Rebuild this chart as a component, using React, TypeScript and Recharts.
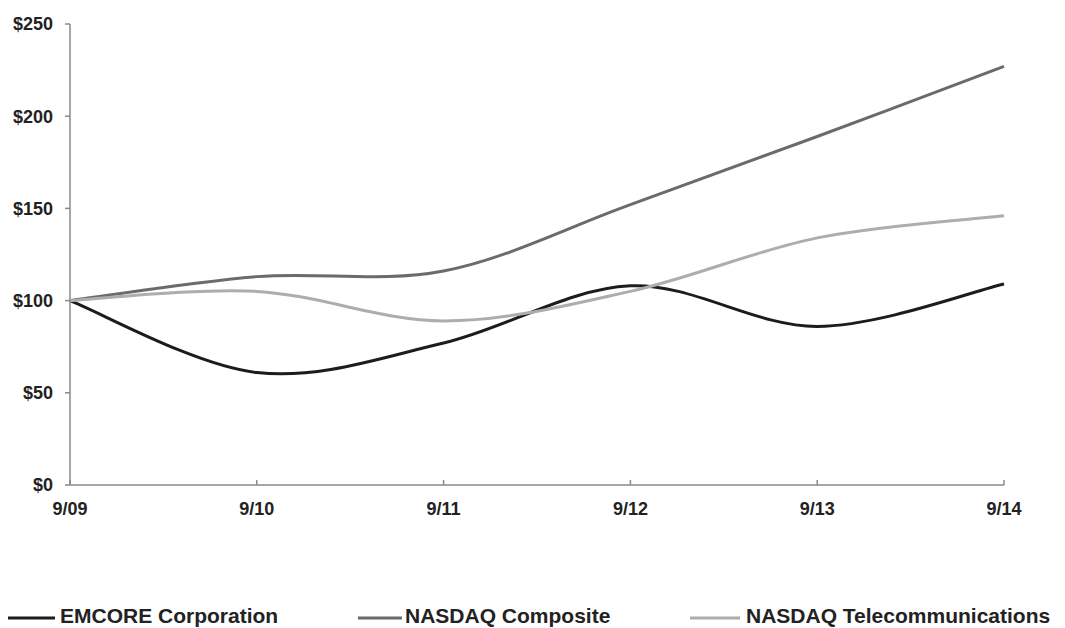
import React from 'react';
import { LineChart, Line, XAxis, YAxis, Legend } from 'recharts';

// performance index, base $100 at 9/09
const periods = ['9/09', '9/10', '9/11', '9/12', '9/13', '9/14'];
const emcoreValues = [100, 61, 77, 108, 86, 109];
const compositeValues = [100, 113, 116, 152, 189, 227];
const telecomValues = [100, 105, 89, 105, 134, 146];
const yTicks = [0, 50, 100, 150, 200, 250];

const seriesList = [
  { key: 'emcore', name: 'EMCORE Corporation', color: '#1c1c1c' },
  { key: 'composite', name: 'NASDAQ Composite', color: '#6b6b6b' },
  { key: 'telecom', name: 'NASDAQ Telecommunications', color: '#adadad' },
];

const data = periods.map((p, i) => ({
  period: p,
  emcore: emcoreValues[i],
  composite: compositeValues[i],
  telecom: telecomValues[i],
}));

const FONT = '"Liberation Sans", Arial, sans-serif';
const AXIS_Y = 485;

// Excel-style smoothed line (Catmull-Rom through the points)
function excelSmooth(context: any) {
  let pts: number[][] = [];
  return {
    areaStart() {},
    areaEnd() {},
    lineStart() {
      pts = [];
    },
    point(x: number, y: number) {
      pts.push([+x, +y]);
    },
    lineEnd() {
      const n = pts.length;
      if (!n) return;
      context.moveTo(pts[0][0], pts[0][1]);
      for (let i = 0; i < n - 1; i++) {
        const p0 = pts[Math.max(i - 1, 0)];
        const p1 = pts[i];
        const p2 = pts[i + 1];
        const p3 = pts[Math.min(i + 2, n - 1)];
        context.bezierCurveTo(
          p1[0] + (p2[0] - p0[0]) / 6,
          p1[1] + (p2[1] - p0[1]) / 6,
          p2[0] - (p3[0] - p1[0]) / 6,
          p2[1] - (p3[1] - p1[1]) / 6,
          p2[0],
          p2[1]
        );
      }
    },
  };
}

function XTick(props: any) {
  const { x, y, payload } = props;
  return (
    <g>
      <line x1={x} y1={y} x2={x} y2={y - 5} stroke="#8a8a8a" strokeWidth={1.5} />
      <text x={x} y={y + 30} textAnchor="middle" fontFamily={FONT} fontWeight="bold" fontSize={18} fill="#222">
        {payload.value}
      </text>
    </g>
  );
}

const legendLines = [
  { x1: 8, x2: 55, tx: 60 },
  { x1: 358, x2: 402, tx: 405 },
  { x1: 690, x2: 740, tx: 746 },
];

function LegendRow() {
  return (
    <svg width={1065} height={32} style={{ display: 'block' }}>
      {seriesList.map((s, i) => (
        <g key={s.key}>
          <line x1={legendLines[i].x1} y1={22} x2={legendLines[i].x2} y2={22} stroke={s.color} strokeWidth={3} />
          <text x={legendLines[i].tx} y={27} fontFamily={FONT} fontWeight="bold" fontSize={21} fill="#222">
            {s.name}
          </text>
        </g>
      ))}
    </svg>
  );
}

export default function App() {
  return (
    <div style={{ position: 'absolute', left: 0, top: 0, width: 1065, height: 628, background: '#fff' }}>
      <LineChart width={1065} height={628} data={data} margin={{ top: 24, right: 61, left: 0, bottom: 73 }}>
        <XAxis
          dataKey="period"
          height={40}
          stroke="#8a8a8a"
          strokeWidth={1.5}
          tickLine={false}
          tickSize={0}
          tickMargin={0}
          tick={<XTick />}
          interval={0}
        />
        <YAxis
          width={70}
          domain={[0, 250]}
          ticks={yTicks}
          tickFormatter={(v: number) => `$${v}`}
          stroke="#8a8a8a"
          strokeWidth={1.5}
          tickSize={5}
          tickMargin={12}
          tick={{ fontFamily: FONT, fontWeight: 'bold', fontSize: 18, fill: '#222' }}
          interval={0}
        />
        <Legend
          verticalAlign="bottom"
          height={30}
          content={() => <LegendRow />}
          wrapperStyle={{ position: 'absolute', left: 0, top: 596, width: 1065, height: 30 }}
        />
        {seriesList.map((s) => (
          <Line
            key={s.key}
            dataKey={s.key}
            name={s.name}
            type={excelSmooth as any}
            stroke={s.color}
            strokeWidth={3}
            dot={false}
            activeDot={false}
            isAnimationActive={false}
          />
        ))}
      </LineChart>
    </div>
  );
}
